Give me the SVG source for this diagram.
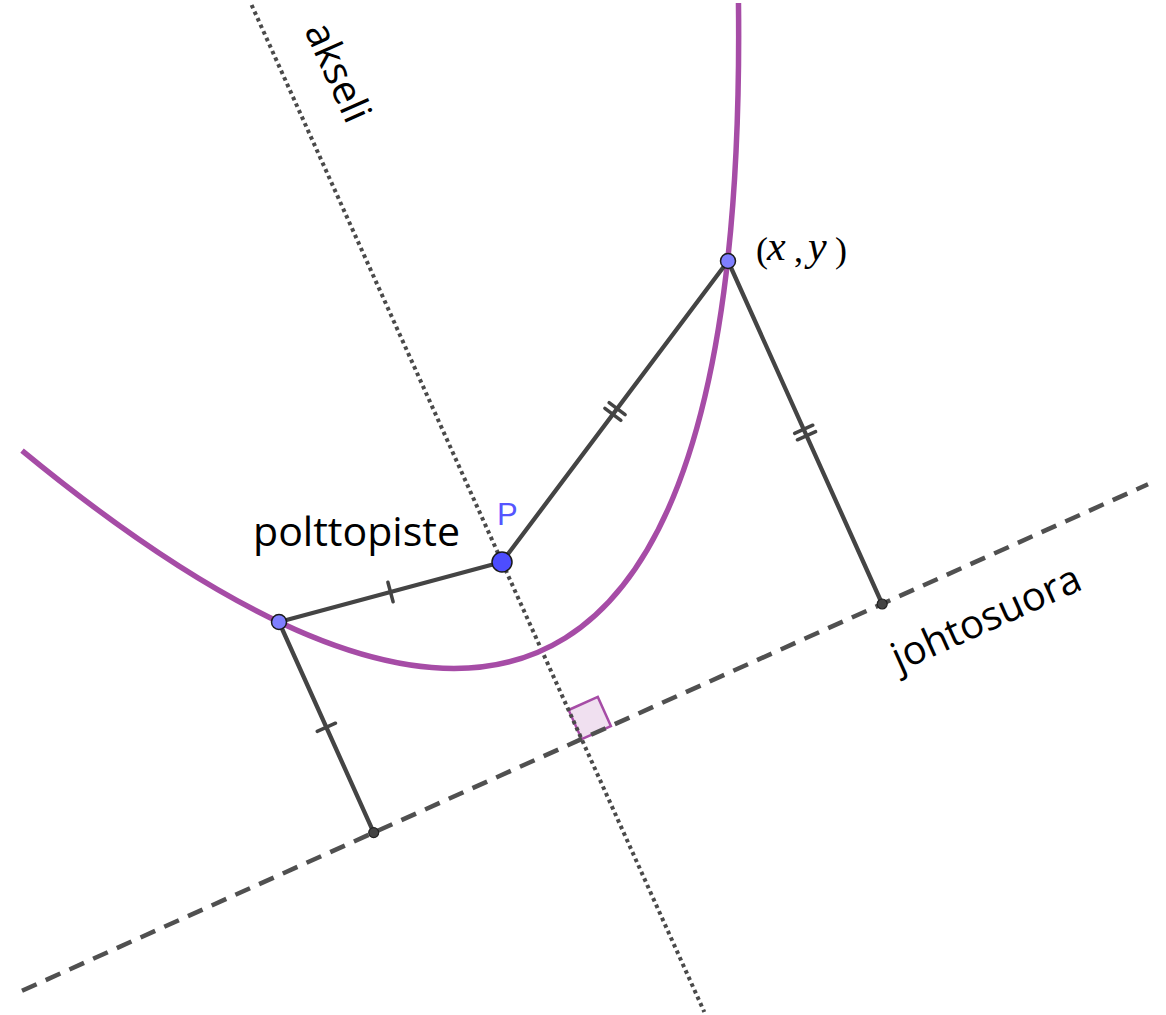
<svg xmlns="http://www.w3.org/2000/svg" width="1166" height="1015" viewBox="0 0 1166 1015">
<style>
.axis{fill:none;stroke:#4a4a4a;stroke-width:4;stroke-dasharray:3.6 3.6}
.dir{fill:none;stroke:#505050;stroke-width:4.5;stroke-dasharray:16 10}
.curve{fill:none;stroke:#a64ca6;stroke-width:5.5}
.seg{fill:none;stroke:#444;stroke-width:4.3;stroke-linecap:round}
.tick{fill:none;stroke:#444;stroke-width:3.5;stroke-linecap:round}
.pt{fill:#7f7fff;stroke:#1a1a1a;stroke-width:1.5}
.foot{fill:#444;stroke:#222;stroke-width:1.2}
.lbl{font-family:"Open Sans","Liberation Sans",sans-serif;font-size:40px;fill:#000}
.math{font-family:"Liberation Serif","DejaVu Serif",serif;font-size:36px;fill:#000}
.mi{font-style:italic;font-size:42px}
</style>
<rect width="1166" height="1015" fill="#fff"/>
<g id="right-angle">
<polygon points="581.7,739.2 610.9,726.1 597.8,696.9 568.6,710.0" fill="#f0e0f0" stroke="#a64ca6" stroke-width="2.5"/>
</g>
<g id="connectors">
<line id="axis" class="axis" x1="251.6" y1="5" x2="704.3" y2="1012"/>
<line id="directrix" class="dir" x1="22" y1="990.8" x2="1148" y2="484.3"/>
<path id="parabola" class="curve" d="M 22.04 450.61 Q 750.27 1049.24 738.47 3.01"/>
<line class="seg" x1="279" y1="622" x2="502" y2="562"/>
<line class="seg" x1="502" y1="562" x2="728" y2="261"/>
<line class="seg" x1="728" y1="261" x2="882.2" y2="604"/>
<line class="seg" x1="279" y1="622" x2="373.7" y2="832.6"/>
<line class="tick" x1="393.1" y1="601.7" x2="387.9" y2="582.3"/>
<line class="tick" x1="335.5" y1="723.2" x2="317.2" y2="731.4"/>
<line class="tick" x1="625.1" y1="414.7" x2="609.1" y2="402.7"/>
<line class="tick" x1="620.9" y1="420.3" x2="604.9" y2="408.3"/>
<line class="tick" x1="812.8" y1="425.2" x2="794.6" y2="433.4"/>
<line class="tick" x1="815.6" y1="431.6" x2="797.4" y2="439.8"/>
</g>
<g id="foot1"><circle class="foot" cx="373.7" cy="832.6" r="5"/></g>
<g id="foot2"><circle class="foot" cx="882.2" cy="604" r="5"/></g>
<g id="point-left"><circle class="pt" cx="279" cy="622" r="7.5"/></g>
<g id="point-xy"><circle class="pt" cx="728" cy="261" r="7.5"/>
<text class="math"><tspan x="756" y="262">(</tspan><tspan class="mi" x="767" y="260">x</tspan><tspan x="794" y="262">,</tspan><tspan class="mi" x="808" y="260">y</tspan><tspan x="835" y="262">)</tspan></text>
</g>
<g id="focus"><circle cx="502" cy="562" r="10" fill="#4d4dff" stroke="#1a1a1a" stroke-width="1.5"/>
<text x="497" y="525" font-family="Liberation Sans, Arial, sans-serif" font-size="31" fill="#5555ff">P</text>
</g>
<text class="lbl" x="253" y="546" textLength="207" lengthAdjust="spacingAndGlyphs">polttopiste</text>
<text class="lbl" transform="translate(304,30) rotate(65.8)" font-size="41">akseli</text>
<text class="lbl" transform="translate(899,672) rotate(-24.2)">johtosuora</text>
</svg>
